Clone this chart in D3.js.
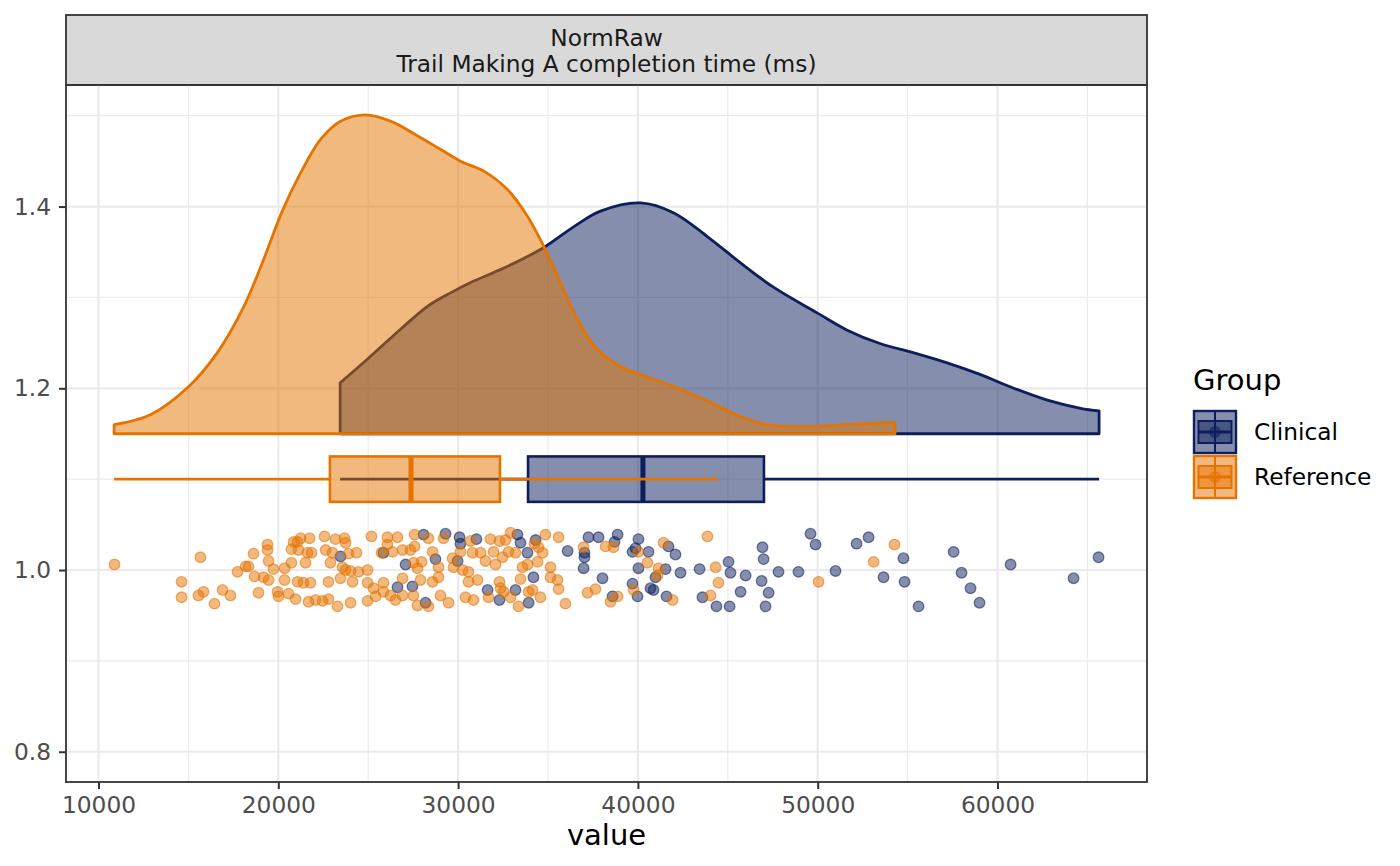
<!DOCTYPE html>
<html>
<head>
<meta charset="utf-8">
<script src="https://cdn.jsdelivr.net/npm/d3@7"></script>
<style>
	body { margin: 0; background: #fff; }
	text { font-family: "DejaVu Sans", sans-serif; }
</style>
</head>
<body>
<svg id="chart" width="1400" height="866"></svg>
<script>
// groups and tick values
var groups = ["Clinical", "Reference"];
var xTicks = [10000, 20000, 30000, 40000, 50000, 60000];
var xMinorTicks = [15000, 25000, 35000, 45000, 55000, 65000];
var yTicks = [0.8, 1.0, 1.2, 1.4];
var yMinorTicks = [0.9, 1.1, 1.3, 1.5];

// half-densities (value, top of the slab), baseline sits at 1.15
var densityBase = 1.15;
var clinicalDensityX = [23440, 24950, 26800, 28280, 29580, 30870, 32730, 34770, 36440, 37920, 40150, 42000, 43860, 45710, 47560, 49970, 51640, 53500, 55350, 57200, 59060, 60910, 62770, 64620, 65650];
var clinicalDensityY = [1.206, 1.232, 1.265, 1.290, 1.305, 1.318, 1.334, 1.355, 1.378, 1.395, 1.404, 1.393, 1.367, 1.338, 1.311, 1.283, 1.264, 1.249, 1.239, 1.228, 1.215, 1.200, 1.187, 1.178, 1.175];
var referenceDensityX = [10870, 12890, 15020, 16600, 18080, 19190, 20220, 21240, 22350, 23460, 24850, 26240, 27730, 29020, 30130, 31430, 32730, 33840, 34770, 35700, 36630, 37740, 39030, 40150, 42000, 43860, 45710, 47190, 48490, 49790, 51640, 53500, 54300];
var referenceDensityY = [1.160, 1.171, 1.202, 1.239, 1.290, 1.342, 1.395, 1.437, 1.474, 1.494, 1.501, 1.494, 1.478, 1.463, 1.450, 1.439, 1.419, 1.390, 1.356, 1.316, 1.276, 1.243, 1.224, 1.215, 1.202, 1.186, 1.169, 1.160, 1.158, 1.158, 1.160, 1.162, 1.162];

// boxplots: lower whisker, q1, median, q3, upper whisker
var boxPosition = 1.1;
var clinicalBox = [23440, 33890, 40280, 47010, 65650];
var referenceBox = [10870, 22870, 27380, 32330, 44450];

// jittered raw points
var clinicalPointsX = [23460, 25850, 27080, 26630, 27460, 28080, 29300, 30080, 30130, 31020, 28740, 29970, 28190, 31640, 32300, 33300, 33470, 34310, 33860, 36090, 37030, 37030, 37250, 37810, 38700, 38870, 39700, 39870, 40030, 40590, 41700, 42090, 36980, 40030, 41540, 42370, 43430, 34190, 38030, 39700, 40980, 33190, 38590, 39980, 40700, 40870, 41590, 33920, 43590, 45040, 45150, 45990, 44370, 45100, 45710, 46930, 46990, 46880, 47270, 47100, 47820, 48930, 49600, 49880, 50990, 52160, 52830, 53660, 54770, 54830, 55610, 57560, 58000, 58500, 59000, 60730, 64230, 65620];
var clinicalPointsY = [1.015, 1.019, 1.006, 0.981, 0.982, 1.039, 1.040, 1.036, 1.029, 1.034, 1.012, 1.010, 0.964, 0.978, 0.967, 1.039, 1.030, 1.033, 1.019, 1.021, 1.019, 1.014, 1.036, 1.036, 1.031, 1.039, 1.020, 1.024, 1.034, 1.020, 1.026, 1.017, 1.002, 1.002, 1.001, 0.997, 1.001, 0.992, 0.991, 0.985, 0.992, 0.978, 0.971, 0.971, 0.980, 0.978, 0.971, 0.964, 0.970, 1.009, 0.997, 0.994, 0.960, 0.960, 0.976, 1.025, 1.012, 0.988, 0.975, 0.960, 0.998, 0.998, 1.040, 1.028, 0.999, 1.029, 1.036, 0.992, 1.013, 0.987, 0.960, 1.020, 0.997, 0.980, 0.964, 1.006, 0.991, 1.014];
var referencePointsX = [10890, 14620, 14620, 15560, 15670, 15840, 16450, 16900, 17340, 17730, 18180, 18340, 18620, 18680, 18900, 19180, 19400, 19400, 19460, 19460, 19730, 19960, 20010, 20350, 20350, 20570, 20730, 20730, 20850, 21070, 21240, 20960, 21070, 21740, 22570, 23180, 23680, 23740, 25180, 26070, 26630, 27580, 28350, 29190, 30690, 31800, 32300, 21120, 21620, 21850, 22630, 23010, 23900, 24350, 25740, 26070, 26350, 26910, 27350, 27580, 28580, 29690, 30130, 30800, 31250, 31970, 32470, 21510, 22900, 23570, 23740, 24020, 24460, 24960, 27520, 27740, 27970, 28910, 29750, 30250, 30580, 31520, 32080, 21400, 21790, 22790, 23460, 24130, 24960, 25300, 25850, 26910, 27910, 28580, 28910, 30580, 31080, 32300, 32360, 21680, 22070, 22460, 22790, 23290, 24020, 24960, 25410, 25850, 26240, 26520, 26910, 27520, 27740, 28350, 29020, 29470, 30410, 30860, 31690, 32920, 32640, 34250, 34860, 35590, 34470, 34700, 33190, 32800, 36980, 38200, 38640, 40030, 41430, 33580, 33860, 34420, 35140, 40530, 41150, 33470, 35140, 35530, 35590, 41090, 32530, 33920, 34140, 37200, 37640, 38870, 39760, 41930, 32920, 33360, 34580, 35970, 38480, 43870, 44320, 44480, 44040, 50050, 54270, 53110];
var referencePointsY = [1.006, 0.987, 0.970, 0.972, 1.014, 0.976, 0.963, 0.978, 0.972, 0.998, 1.004, 1.004, 1.018, 0.993, 0.975, 0.992, 1.028, 1.022, 1.010, 0.989, 1.001, 0.976, 0.971, 0.989, 1.002, 0.974, 1.008, 1.023, 1.031, 1.031, 1.035, 0.968, 0.987, 1.035, 1.037, 1.034, 1.035, 1.030, 1.037, 1.036, 1.036, 1.039, 1.035, 1.035, 1.032, 1.034, 1.032, 1.022, 1.019, 1.019, 1.022, 1.019, 1.018, 1.019, 1.019, 1.028, 1.020, 1.022, 1.022, 1.026, 1.020, 1.013, 1.020, 1.019, 1.019, 1.020, 1.014, 1.008, 1.008, 1.003, 1.000, 0.999, 0.998, 1.000, 1.008, 1.002, 1.009, 1.003, 1.003, 1.000, 0.998, 1.010, 1.006, 0.986, 0.986, 0.987, 0.991, 0.987, 0.986, 0.980, 0.986, 0.991, 0.989, 0.987, 0.992, 0.987, 0.989, 0.987, 0.980, 0.965, 0.967, 0.966, 0.968, 0.960, 0.964, 0.966, 0.971, 0.976, 0.972, 0.967, 0.972, 0.972, 0.961, 0.960, 0.972, 0.964, 0.970, 0.967, 0.970, 1.041, 1.033, 1.029, 1.039, 1.036, 1.025, 1.019, 1.019, 1.020, 1.025, 1.026, 1.025, 1.020, 1.030, 1.003, 1.006, 1.009, 1.003, 1.008, 1.002, 0.990, 0.992, 0.989, 0.979, 0.994, 0.976, 0.976, 0.978, 0.975, 0.979, 0.971, 0.978, 0.967, 0.970, 0.960, 0.970, 0.963, 0.965, 1.037, 1.003, 0.986, 0.972, 0.987, 1.028, 1.009];

var colors = {Clinical: "#0c1e5c", Reference: "#e57300"};

var margin = {top: 85, left: 66},
	width = 1081,
	height = 697;
var smallFont = 23.3, titleFont = 29;

var svg = d3.select("#chart");

var x = d3.scaleLinear().domain([8192, 68315]).range([0, width]);
var y = d3.scaleLinear().domain([0.7667, 1.5338]).range([height, 0]);

// strip on top of the panel
svg.append("rect")
	.attr("x", margin.left).attr("y", 15)
	.attr("width", width).attr("height", margin.top - 15)
	.attr("fill", "#d9d9d9").attr("stroke", "#333").attr("stroke-width", 1.8);
svg.append("text")
	.attr("x", margin.left + width / 2).attr("y", 45.5)
	.attr("text-anchor", "middle").attr("font-size", smallFont).attr("fill", "#1a1a1a")
	.text("NormRaw");
svg.append("text")
	.attr("x", margin.left + width / 2).attr("y", 72)
	.attr("text-anchor", "middle").attr("font-size", smallFont).attr("fill", "#1a1a1a")
	.text("Trail Making A completion time (ms)");

var g = svg.append("g")
	.attr("transform", "translate(" + margin.left + "," + margin.top + ")");

// grid
g.selectAll(".xminor").data(xMinorTicks).enter().append("line")
	.attr("x1", function(d) { return x(d); }).attr("x2", function(d) { return x(d); })
	.attr("y1", 0).attr("y2", height)
	.attr("stroke", "#ebebeb").attr("stroke-width", 1.2);
g.selectAll(".yminor").data(yMinorTicks).enter().append("line")
	.attr("x1", 0).attr("x2", width)
	.attr("y1", function(d) { return y(d); }).attr("y2", function(d) { return y(d); })
	.attr("stroke", "#ebebeb").attr("stroke-width", 1.2);
g.selectAll(".xmajor").data(xTicks).enter().append("line")
	.attr("x1", function(d) { return x(d); }).attr("x2", function(d) { return x(d); })
	.attr("y1", 0).attr("y2", height)
	.attr("stroke", "#ebebeb").attr("stroke-width", 2.2);
g.selectAll(".ymajor").data(yTicks).enter().append("line")
	.attr("x1", 0).attr("x2", width)
	.attr("y1", function(d) { return y(d); }).attr("y2", function(d) { return y(d); })
	.attr("stroke", "#ebebeb").attr("stroke-width", 2.2);

// densities
var area = d3.area()
	.x(function(d) { return x(d[0]); })
	.y0(y(densityBase))
	.y1(function(d) { return y(d[1]); })
	.curve(d3.curveCatmullRom.alpha(0.5));

var densities = {
	Clinical: d3.zip(clinicalDensityX, clinicalDensityY),
	Reference: d3.zip(referenceDensityX, referenceDensityY)
};
groups.forEach(function(grp) {
	g.append("path")
		.datum(densities[grp])
		.attr("d", area)
		.attr("fill", colors[grp]).attr("fill-opacity", 0.5)
		.attr("stroke", colors[grp]).attr("stroke-width", 2.8)
		.attr("stroke-linejoin", "round");
});

// boxplots
var boxes = {Clinical: clinicalBox, Reference: referenceBox};
var halfBox = 0.025;
groups.forEach(function(grp) {
	var b = boxes[grp], c = colors[grp];
	g.append("line")
		.attr("x1", x(b[0])).attr("x2", x(b[1]))
		.attr("y1", y(boxPosition)).attr("y2", y(boxPosition))
		.attr("stroke", c).attr("stroke-width", 2.6);
	g.append("line")
		.attr("x1", x(b[3])).attr("x2", x(b[4]))
		.attr("y1", y(boxPosition)).attr("y2", y(boxPosition))
		.attr("stroke", c).attr("stroke-width", 2.6);
	g.append("rect")
		.attr("x", x(b[1])).attr("y", y(boxPosition + halfBox))
		.attr("width", x(b[3]) - x(b[1]))
		.attr("height", y(boxPosition - halfBox) - y(boxPosition + halfBox))
		.attr("fill", c).attr("fill-opacity", 0.5)
		.attr("stroke", c).attr("stroke-width", 2.6);
	g.append("line")
		.attr("x1", x(b[2])).attr("x2", x(b[2]))
		.attr("y1", y(boxPosition + halfBox)).attr("y2", y(boxPosition - halfBox))
		.attr("stroke", c).attr("stroke-width", 5);
});

// points
var points = {
	Clinical: d3.zip(clinicalPointsX, clinicalPointsY),
	Reference: d3.zip(referencePointsX, referencePointsY)
};
groups.forEach(function(grp) {
	g.selectAll(".pt-" + grp).data(points[grp]).enter().append("circle")
		.attr("cx", function(d) { return x(d[0]); })
		.attr("cy", function(d) { return y(d[1]); })
		.attr("r", 5.3)
		.attr("fill", colors[grp]).attr("fill-opacity", 0.5)
		.attr("stroke", colors[grp]).attr("stroke-opacity", 0.55).attr("stroke-width", 1.3);
});

// panel border
g.append("rect")
	.attr("width", width).attr("height", height)
	.attr("fill", "none").attr("stroke", "#333").attr("stroke-width", 1.8);

// axes
var xAxis = g.append("g")
	.attr("transform", "translate(0," + height + ")")
	.call(d3.axisBottom(x).tickValues(xTicks).tickFormat(d3.format("d")).tickSize(7));
xAxis.select(".domain").remove();
xAxis.selectAll("line").attr("stroke", "#333").attr("stroke-width", 2);
xAxis.selectAll("text")
	.attr("y", 31).attr("dy", null)
	.attr("font-size", smallFont).attr("fill", "#4d4d4d")
	.attr("font-family", "DejaVu Sans");

var yAxis = g.append("g")
	.call(d3.axisLeft(y).tickValues(yTicks).tickFormat(d3.format(".1f")).tickSize(7).tickPadding(8));
yAxis.select(".domain").remove();
yAxis.selectAll("line").attr("stroke", "#333").attr("stroke-width", 2);
yAxis.selectAll("text")
	.attr("font-size", smallFont).attr("fill", "#4d4d4d")
	.attr("font-family", "DejaVu Sans");

svg.append("text")
	.attr("x", margin.left + width / 2).attr("y", 845)
	.attr("text-anchor", "middle").attr("font-size", titleFont)
	.text("value");

// legend
var legend = svg.append("g").attr("transform", "translate(1193,0)");
legend.append("text")
	.attr("x", 0).attr("y", 390)
	.attr("font-size", titleFont)
	.text("Group");

var keySize = 44;
groups.forEach(function(grp, i) {
	var c = colors[grp];
	var k = legend.append("g").attr("transform", "translate(0," + (410 + i * (keySize + 1)) + ")");
	k.append("rect")
		.attr("x", 1).attr("y", 1).attr("width", keySize - 2).attr("height", keySize - 2)
		.attr("fill", c).attr("fill-opacity", 0.5)
		.attr("stroke", c).attr("stroke-width", 2.4);
	k.append("line")
		.attr("x1", keySize / 2).attr("x2", keySize / 2)
		.attr("y1", 1).attr("y2", keySize - 1)
		.attr("stroke", c).attr("stroke-width", 2);
	k.append("rect")
		.attr("x", 5.5).attr("y", 11).attr("width", keySize - 11).attr("height", keySize - 22)
		.attr("fill", c).attr("fill-opacity", 0.5)
		.attr("stroke", c).attr("stroke-width", 2);
	k.append("line")
		.attr("x1", 5.5).attr("x2", keySize - 5.5)
		.attr("y1", keySize / 2).attr("y2", keySize / 2)
		.attr("stroke", c).attr("stroke-width", 3);
	k.append("circle")
		.attr("cx", keySize / 2).attr("cy", keySize / 2).attr("r", 5.3)
		.attr("fill", c).attr("fill-opacity", 0.5)
		.attr("stroke", c).attr("stroke-opacity", 0.55).attr("stroke-width", 1.3);
	legend.append("text")
		.attr("x", 61).attr("y", 410 + i * (keySize + 1) + keySize / 2 + 8)
		.attr("font-size", smallFont)
		.text(grp);
});
</script>
</body>
</html>
